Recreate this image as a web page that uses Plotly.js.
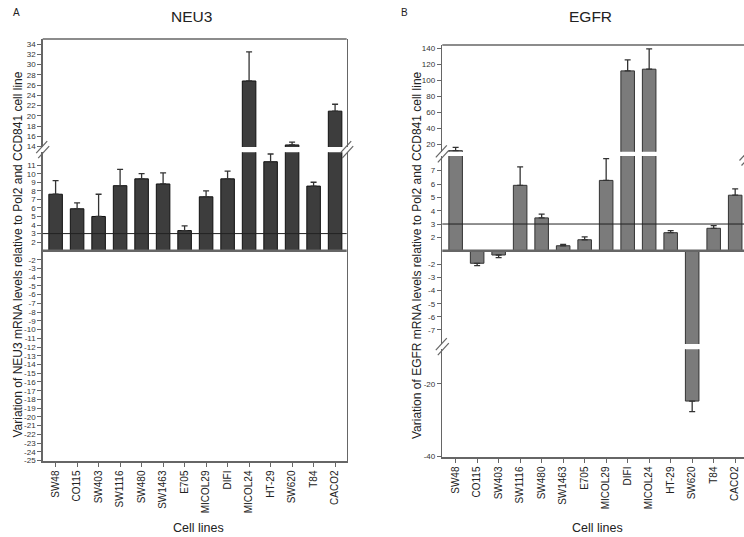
<!DOCTYPE html>
<html><head><meta charset="utf-8">
<script src="https://cdn.plot.ly/plotly-3.0.1.min.js"></script>
<style>html,body{margin:0;padding:0;background:#fff}#chart{width:744px;height:537px}</style>
</head><body><div id="chart"></div>
<script>
// ---------- data ----------
const cellLines = ['SW48','CO115','SW403','SW1116','SW480','SW1463','E705','MICOL29','DIFI','MICOL24','HT-29','SW620','T84','CACO2'];
const neu3Values = [7.6, 5.9, 5.0, 8.6, 9.4, 8.8, 3.35, 7.3, 9.4, 26.8, 11.4, 14.3, 8.55, 20.9];
const neu3Sd     = [1.6, 0.7, 2.6, 1.9, 0.6, 1.3, 0.55, 0.7, 0.9, 5.7, 0.9, 0.55, 0.45, 1.35];
const egfrValues = [11.7, -1.92, -1.29, 5.9, 3.46, 1.37, 1.82, 6.27, 111.6, 113.7, 2.35, -24.7, 2.68, 5.16];
const egfrSd     = [4.1, 0.18, 0.2, 1.39, 0.28, 0.1, 0.21, 1.64, 13.8, 25.5, 0.15, 2.9, 0.2, 0.48];
const referenceLevel = 3;
const neu3UpperTicks = [14,16,18,20,22,24,26,28,30,32,34];
const neu3PosTicks   = [2,3,4,5,6,7,8,9,10,11];
const neu3NegTicks   = [-2,-3,-4,-5,-6,-7,-8,-9,-10,-11,-12,-13,-14,-15,-16,-17,-18,-19,-20,-21,-22,-23,-24,-25];
const egfrUpperTicks = [20,40,60,80,100,120,140];
const egfrPosTicks   = [2,3,4,5,6,7];
const egfrNegTicks   = [-2,-3,-4,-5,-6,-7];
const egfrLowTicks   = [-20,-40];

// ---------- geometry helpers ----------
const W=744, H=537, MT=39, MB=76, PH=H-MT-MB;
const px = x => x/W;
const py = y => (H-MB-y)/PH;
const FONT = 'Liberation Sans, Arial, sans-serif';

function yax(domain, range, ticks, anchor, mirror){
  return {domain: domain, range: range, tickvals: ticks, ticktext: ticks.map(String),
    anchor: anchor, showline: true, linecolor: '#666', linewidth: 1.5,
    ticks: 'outside', ticklen: 4, tickwidth: 1, tickcolor: '#666',
    tickfont: {size: 8, color: '#333', family: FONT},
    showgrid: false, zeroline: false, mirror: mirror, fixedrange: true};
}
function bars(vals, sd, fill, edge, xa, ya){
  return {type: 'bar', x: cellLines, y: vals, xaxis: xa, yaxis: ya, width: 0.63,
    marker: {color: fill, line: {color: edge, width: 1}},
    error_y: {type: 'data', symmetric: false,
      array: vals.map((v,i)=> v>0 ? sd[i] : 0),
      arrayminus: vals.map((v,i)=> v<0 ? sd[i] : 0),
      color: '#333', thickness: 1.3, width: 3},
    hoverinfo: 'skip', showlegend: false};
}
const leftFill='#3d3d3d', leftEdge='#111', rightFill='#7b7b7b', rightEdge='#333';
const data = [
  bars(neu3Values, neu3Sd, leftFill, leftEdge, 'x', 'y'),
  bars(neu3Values, neu3Sd, leftFill, leftEdge, 'x', 'y2'),
  bars(neu3Values, neu3Sd, leftFill, leftEdge, 'x', 'y3'),
  bars(egfrValues, egfrSd, rightFill, rightEdge, 'x2', 'y4'),
  bars(egfrValues, egfrSd, rightFill, rightEdge, 'x2', 'y5'),
  bars(egfrValues, egfrSd, rightFill, rightEdge, 'x2', 'y6'),
  bars(egfrValues, egfrSd, rightFill, rightEdge, 'x2', 'y7')
];

function xax(domain, range, anchor){
  return {domain: domain, range: range, anchor: anchor, type: 'category',
    showline: true, linecolor: '#666', linewidth: 1.5, ticks: 'outside', ticklen: 4,
    tickcolor: '#666', tickangle: -90, tickfont: {size: 10, color: '#222', family: FONT},
    showgrid: false, zeroline: false, fixedrange: true};
}

function breakMark(cx, cy){
  const mk = (x0,y0,x1,y1)=>({type:'line', xref:'paper', yref:'paper',
    x0: px(x0), y0: py(y0), x1: px(x1), y1: py(y1), line:{color:'#666', width:1.2}});
  return [mk(cx-6.5, cy+3.5, cx+4.5, cy-8.5), mk(cx-4.5, cy+8.5, cx+6.5, cy-3.5)];
}

const shapes = [
  {type:'line', xref:'x domain', yref:'y domain', x0:0, x1:1, y0:1, y1:1, line:{color:'#666', width:1.5}},
  {type:'line', xref:'x2 domain', yref:'y4 domain', x0:0, x1:1, y0:1, y1:1, line:{color:'#666', width:1.5}},
  {type:'line', xref:'x domain', yref:'y2 domain', x0:0, x1:1, y0:0, y1:0, line:{color:'#666', width:2.5}},
  {type:'line', xref:'x2 domain', yref:'y5 domain', x0:0, x1:1, y0:0, y1:0, line:{color:'#666', width:2.5}},
  {type:'line', xref:'x domain', yref:'y2', x0:0, x1:1, y0:referenceLevel, y1:referenceLevel, line:{color:'#222', width:1}},
  {type:'line', xref:'x2 domain', yref:'y5', x0:0, x1:1, y0:referenceLevel, y1:referenceLevel, line:{color:'#222', width:1}},
  ...breakMark(42.7, 149.7), ...breakMark(346.7, 149.7),
  ...breakMark(442.3, 153.8), ...breakMark(442.3, 346.7), ...breakMark(746, 157)
];

function ann(text, x, y, size, angle){
  return {text: text, x: px(x), y: py(y), xref: 'paper', yref: 'paper', showarrow: false,
    xanchor: 'center', yanchor: 'middle', textangle: angle || 0,
    font: {size: size, color: '#222', family: FONT}};
}
const annotations = [
  ann('A', 16.3, 12.7, 10), ann('NEU3', 191, 16.8, 15.5),
  ann('B', 405, 12.7, 10), ann('EGFR', 590, 16.8, 15.5),
  ann('Cell lines', 198, 528, 12.5), ann('Cell lines', 597.7, 528, 12.5),
  ann('Variation of NEU3 mRNA levels relative to Pol2 and CCD841 cell line', 17.5, 255, 12, -90),
  ann('Variation of EGFR mRNA levels relative to Pol2 and CCD841 cell line', 417, 255, 12, -90)
];

const layout = {
  width: W, height: H, margin: {l: 0, r: 0, t: MT, b: MB},
  paper_bgcolor: '#fff', plot_bgcolor: 'rgba(0,0,0,0)', barmode: 'overlay',
  font: {family: FONT, color: '#222'}, showlegend: false,
  xaxis: xax([px(42.7), px(346.7)], [-0.6, 13.54], 'y3'),
  xaxis2: xax([px(442.3), 1], [-0.62, 13.41], 'y7'),
  yaxis:  yax([py(147), 1], [13.9, 35], neu3UpperTicks, 'x', true),
  yaxis2: yax([py(250.7), py(152.3)], [1, 12.5], neu3PosTicks, 'x', true),
  yaxis3: yax([0, py(251)], [-25.05, -1], neu3NegTicks, 'x', true),
  yaxis4: yax([py(151.7), py(45)], [10.4, 144], egfrUpperTicks, 'x2', false),
  yaxis5: yax([py(250.7), py(156)], [1, 8.1], egfrPosTicks, 'x2', false),
  yaxis6: yax([py(344), py(251.2)], [-8.07, -1], egfrNegTicks, 'x2', false),
  yaxis7: yax([py(457), py(349.3)], [-40.1, -10.45], egfrLowTicks, 'x2', false),
  shapes: shapes, annotations: annotations
};
Plotly.newPlot('chart', data, layout, {staticPlot: true, displayModeBar: false});
</script>
</body></html>
